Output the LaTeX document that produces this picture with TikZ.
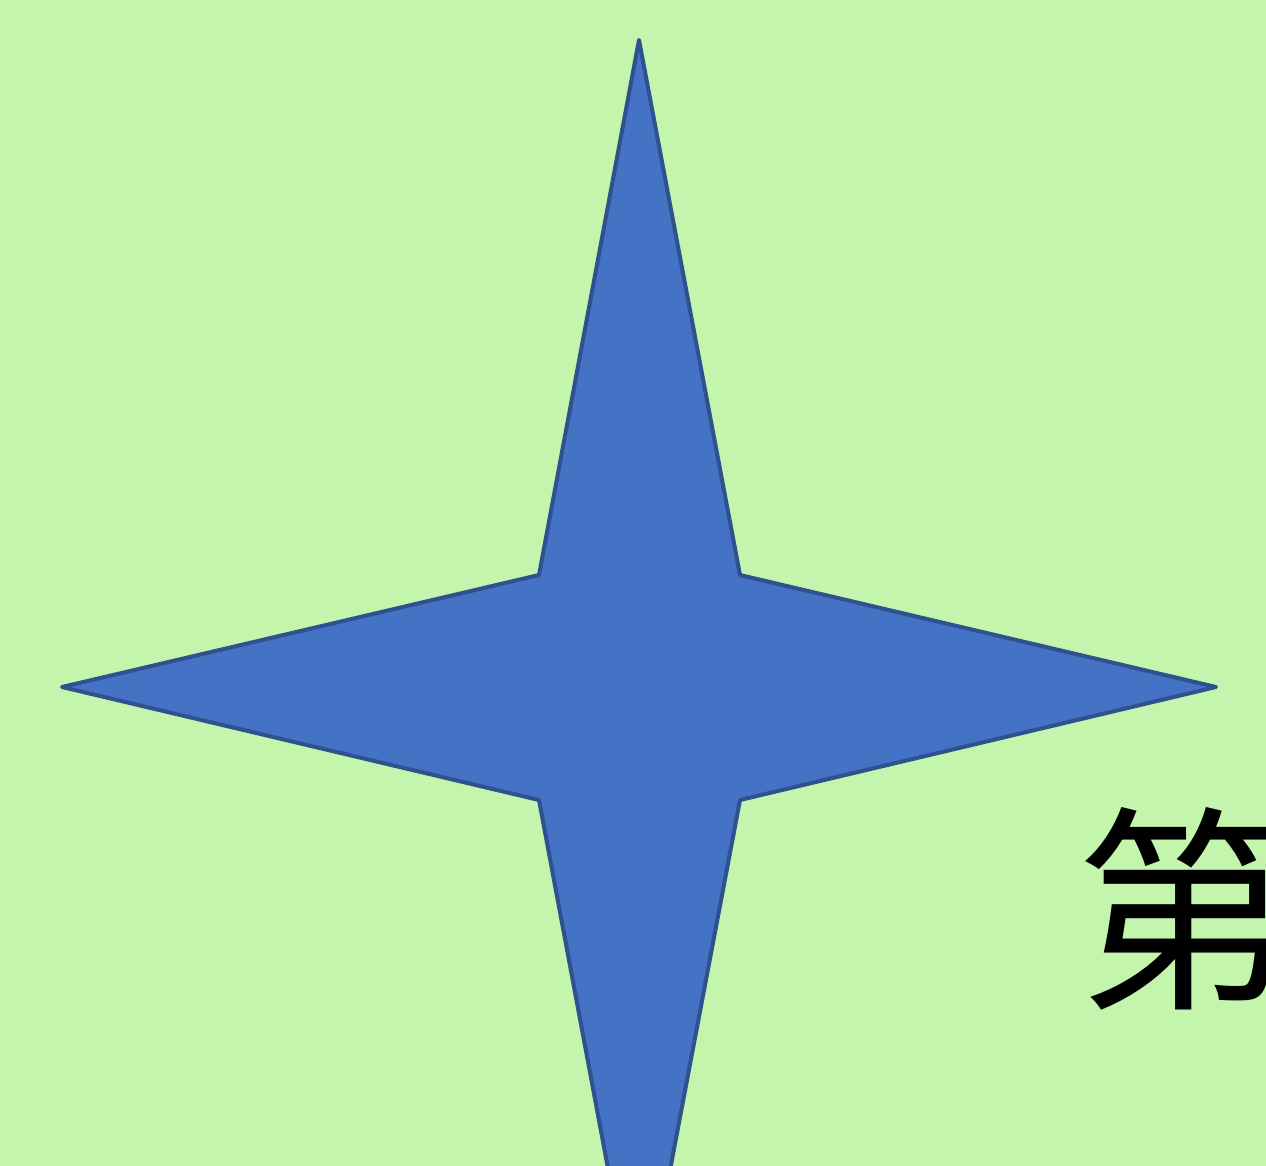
\documentclass[tikz,border=0pt]{standalone}
\usepackage{fontspec}
\newfontfamily\cjk{Noto Sans CJK SC}
\definecolor{bggreen}{HTML}{C3F5AD}
\definecolor{starblue}{HTML}{4472C4}
\definecolor{staredge}{HTML}{2F528F}
\begin{document}
\begin{tikzpicture}[x=1pt,y=-1pt]
\tikzstyle{star}=[fill=starblue, draw=staredge, line width=4pt, line join=round]
\useasboundingbox (0,0) rectangle (1266,1166);
\clip (0,0) rectangle (1266,1166);
\fill [bggreen] (0,0) rectangle (1266,1166);
% four pointed star
\draw [star] (639,40) -- (740,575) -- (1216,687) -- (740,800) -- (639,1334)
  -- (539,800) -- (62,687) -- (539,575) -- cycle;
\node (chap) [anchor=base west, inner sep=0pt, font=\cjk\fontsize{219}{219}\selectfont] at (1075,992) {第};
\end{tikzpicture}
\end{document}
